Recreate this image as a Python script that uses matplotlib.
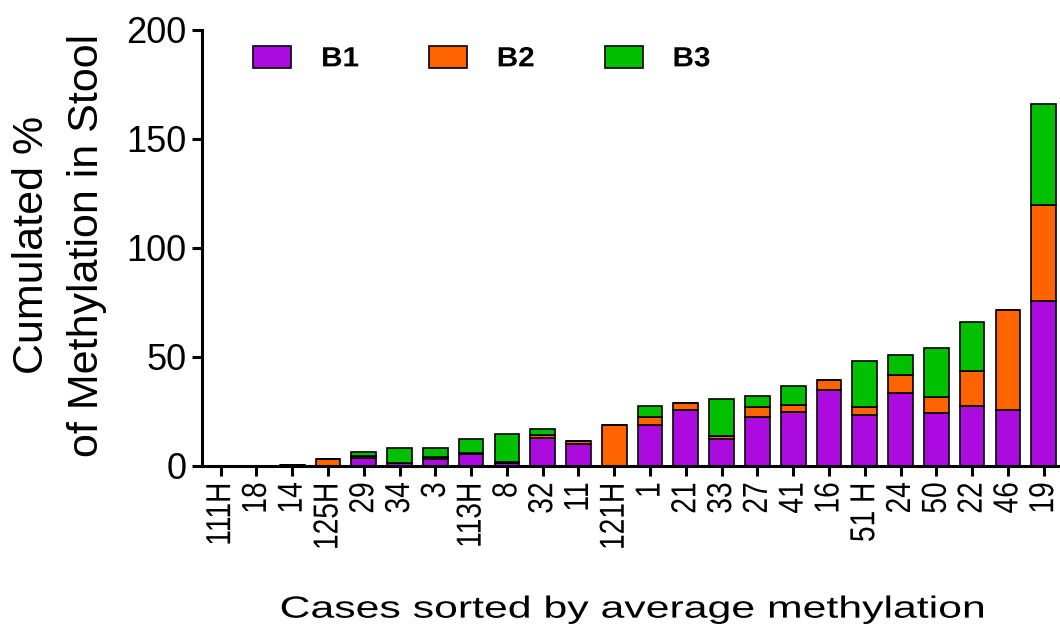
import matplotlib.pyplot as plt
import numpy as np
from matplotlib.patheffects import AbstractPathEffect
from matplotlib.transforms import Affine2D

plt.rcParams['font.family'] = ['Liberation Sans', 'DejaVu Sans']

# cases sorted by average methylation
cases = ['111H', '18', '14', '125H', '29', '34', '3', '113H', '8', '32', '11', '121H',
         '1', '21', '33', '27', '41', '16', '51 H', '24', '50', '22', '46', '19']

b1 = [0, 0, 0.4, 0, 3.7, 1.5, 3.2, 5.3, 1.5, 12.7, 10.0, 0,
      19.0, 25.9, 12.2, 22.5, 24.8, 34.9, 23.6, 33.5, 24.3, 27.4, 25.6, 75.6]
b2 = [0, 0, 0, 3.0, 1.0, 0, 1.1, 0.7, 0.2, 1.3, 1.3, 18.8,
      3.3, 3.0, 1.6, 4.6, 3.4, 4.4, 3.5, 8.1, 7.2, 16.2, 46.1, 44.0]
b3 = [0, 0, 0, 0, 1.6, 6.6, 4.1, 6.4, 13.0, 2.8, 0, 0,
      5.1, 0, 16.9, 4.9, 8.5, 0, 21.1, 9.2, 22.8, 22.4, 0, 46.3]

purple = '#AB0BDF'
orange = '#FF6400'
green = '#00C000'


class Stretch(AbstractPathEffect):
    """Scale drawn glyphs about an anchor point of their ink box."""

    def __init__(self, sx=1.0, sy=1.0, anchor=(0.5, 0.5)):
        super().__init__()
        self.sx, self.sy = sx, sy
        self.anchor = anchor

    def draw_path(self, renderer, gc, tpath, affine, rgbFace=None):
        bb = tpath.get_extents(affine)
        x0 = bb.x0 + self.anchor[0] * bb.width
        y0 = bb.y0 + self.anchor[1] * bb.height
        t = affine + Affine2D().translate(-x0, -y0).scale(self.sx, self.sy).translate(x0, y0)
        renderer.draw_path(gc, tpath, t, rgbFace)


fig = plt.figure(figsize=(10.6, 6.38), dpi=100)
ax = fig.add_axes([0.1906, 0.2696, 0.8075, 0.6834])

x = np.arange(len(cases))
b1 = np.array(b1)
b2 = np.array(b2)
b3 = np.array(b3)
w = 0.69
ax.bar(x, b1, w, color=purple, edgecolor='black', linewidth=1.2, label='B1')
ax.bar(x, b2, w, bottom=b1, color=orange, edgecolor='black', linewidth=1.2, label='B2')
ax.bar(x, b3, w, bottom=b1 + b2, color=green, edgecolor='black', linewidth=1.2, label='B3')

ax.set_xlim(-0.52, 23.4)
ax.set_ylim(0, 200)
ax.set_yticks([0, 50, 100, 150, 200])
ax.set_xticks(x)
ax.set_xticklabels(cases, rotation=90,
                   path_effects=[Stretch(1.0, 0.81, (0.5, 1.0))])

for s in ['top', 'right']:
    ax.spines[s].set_visible(False)
for s in ['left', 'bottom']:
    ax.spines[s].set_linewidth(2.2)
ax.tick_params(axis='both', direction='out', length=7, width=2.2)
ax.tick_params(axis='y', pad=4, labelsize=26)
ax.tick_params(axis='x', pad=4.5, labelsize=25)

ax.set_ylabel('Cumulated %\nof Methylation in Stool', fontsize=31, linespacing=1.48)
ax.yaxis.set_label_coords(-0.111, 0.507)
ax.set_xlabel('Cases sorted by average methylation', fontsize=22,
              path_effects=[Stretch(1.40, 1.0, (0.5, 0.5))])
ax.xaxis.set_label_coords(0.502, -0.295)

leg = ax.legend(loc='center left', bbox_to_anchor=(0.0597, 0.9335), ncol=3, frameon=False,
                borderpad=0, borderaxespad=0,
                handlelength=1.37, handleheight=0.86, columnspacing=2.6, handletextpad=1.08,
                prop={'weight': 'bold', 'size': 20})
for t in leg.get_texts():
    t.set_path_effects([Stretch(1.07, 1.0, (0.0, 0.5))])

fig.savefig('out.png', dpi=100)
